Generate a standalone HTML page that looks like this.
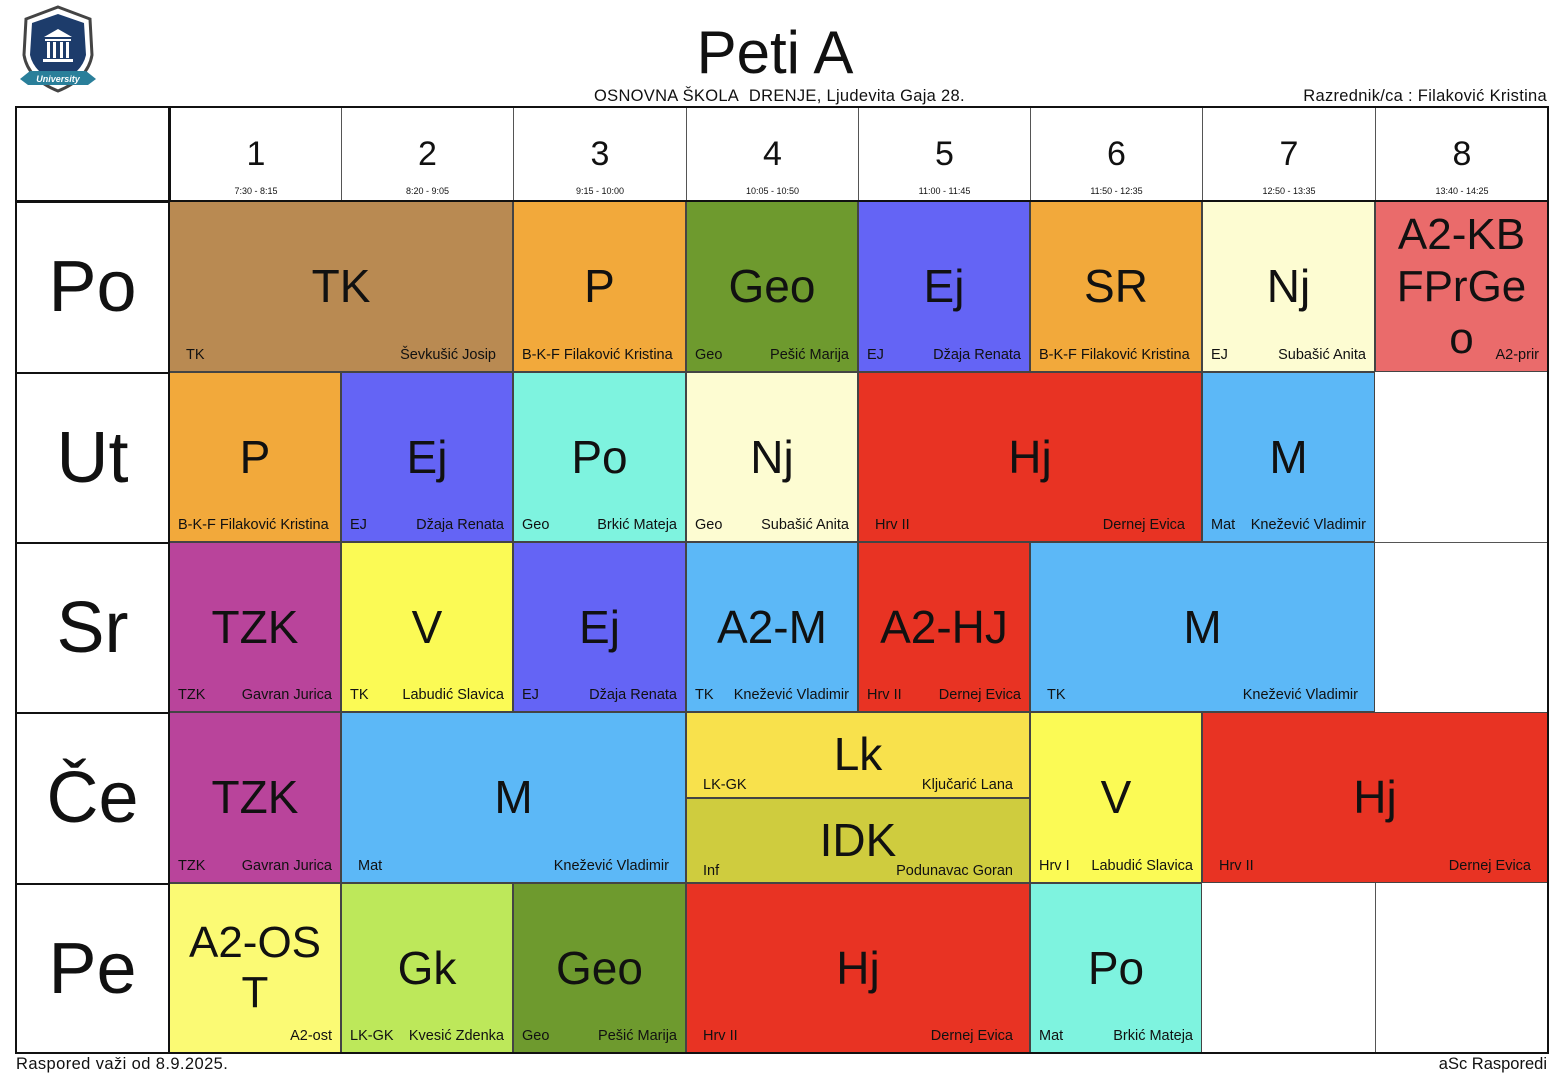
<!DOCTYPE html>
<html><head><meta charset="utf-8"><style>
body{margin:0;width:1558px;height:1080px;background:#fff;position:relative;overflow:hidden;font-family:"Liberation Sans",Arial,sans-serif;color:#111}
.a{position:absolute}
.c{position:absolute;box-sizing:border-box;border:1px solid #444}
.b{position:absolute;left:0;right:0;top:0;bottom:0;display:flex;align-items:center;justify-content:center;font-size:46px;text-align:center;line-height:51px}
.l{position:absolute;left:8px;bottom:8px;font-size:14.5px;white-space:nowrap}
.r{position:absolute;right:8px;bottom:8px;font-size:14.5px;white-space:nowrap}
.h{position:absolute;top:107px;height:94px;box-sizing:border-box;border-left:1px solid #555;text-align:center}
.h .n{position:absolute;top:28px;left:0;right:0;font-size:34px}
.h .t{position:absolute;top:186px;left:0;right:0;font-size:9px}
.d{position:absolute;left:16px;width:153px;height:170px;display:flex;align-items:center;justify-content:center;font-size:72px;box-sizing:border-box;border-top:2px solid #111}
.hl{position:absolute;height:1px;background:#555}
</style></head><body>
<!-- logo -->
<svg class="a" style="left:16px;top:5px" width="84" height="92" viewBox="0 0 84 92">
<path d="M42 2 L74 14 L76 50 Q72 74 42 86 Q12 74 8 50 L10 14 Z" fill="#fff" stroke="#444" stroke-width="3"/>
<path d="M42 9 L68 18 L70 50 Q66 68 42 78 Q18 68 14 50 L16 18 Z" fill="#1d3c6b"/>
<path d="M28 32 L42 24 L56 32 Z" fill="#fff"/><rect x="29" y="34" width="26" height="2" fill="#fff"/>
<rect x="31" y="37" width="3" height="16" fill="#fff"/><rect x="37" y="37" width="3" height="16" fill="#fff"/><rect x="44" y="37" width="3" height="16" fill="#fff"/><rect x="50" y="37" width="3" height="16" fill="#fff"/>
<rect x="27" y="54" width="30" height="3" fill="#fff"/>
<path d="M4 74 L14 66 L70 66 L80 74 L72 80 L12 80 Z" fill="#2a7f9a"/>
<text x="42" y="77" font-size="9" fill="#fff" text-anchor="middle" font-style="italic" font-weight="bold" font-family="Liberation Sans">University</text>
</svg>
<div class="a" style="left:0;width:1550px;top:18px;text-align:center;font-size:60px">Peti A</div>
<div class="a" style="left:594px;top:87px;font-size:16.5px;letter-spacing:0.3px">OSNOVNA ŠKOLA&nbsp; DRENJE, Ljudevita Gaja 28.</div>
<div class="a" style="right:11px;top:87px;font-size:16.5px;letter-spacing:0.3px">Razrednik/ca : Filaković Kristina</div>
<div class="a" style="left:16px;top:1055px;font-size:16.5px;letter-spacing:0.4px">Raspored važi od 8.9.2025.</div>
<div class="a" style="right:11px;top:1055px;font-size:16.5px">aSc Rasporedi</div>

<!-- header -->
<div class="h" style="left:169px;width:172px;border-left:2px solid #111"><div class="n">1</div><div class="t" style="top:79px">7:30 - 8:15</div></div>
<div class="h" style="left:341px;width:172px"><div class="n">2</div><div class="t" style="top:79px">8:20 - 9:05</div></div>
<div class="h" style="left:513px;width:173px"><div class="n">3</div><div class="t" style="top:79px">9:15 - 10:00</div></div>
<div class="h" style="left:686px;width:172px"><div class="n">4</div><div class="t" style="top:79px">10:05 - 10:50</div></div>
<div class="h" style="left:858px;width:172px"><div class="n">5</div><div class="t" style="top:79px">11:00 - 11:45</div></div>
<div class="h" style="left:1030px;width:172px"><div class="n">6</div><div class="t" style="top:79px">11:50 - 12:35</div></div>
<div class="h" style="left:1202px;width:173px"><div class="n">7</div><div class="t" style="top:79px">12:50 - 13:35</div></div>
<div class="h" style="left:1375px;width:173px"><div class="n">8</div><div class="t" style="top:79px">13:40 - 14:25</div></div>

<div class="d" style="top:201px">Po</div>
<div class="d" style="top:372px">Ut</div>
<div class="d" style="top:542px">Sr</div>
<div class="d" style="top:712px">Če</div>
<div class="d" style="top:883px">Pe</div>

<!-- empty cells lines -->
<div class="hl" style="left:1375px;width:173px;top:542px"></div>
<div class="hl" style="left:1375px;width:173px;top:712px"></div>
<div class="a" style="left:1375px;top:883px;width:1px;height:170px;background:#555"></div>

<!-- Po -->
<div class="c" style="left:169px;top:201px;width:344px;height:171px;background:#b98a52"><div class="b">TK</div><div class="l" style="left:16px">TK</div><div class="r" style="right:16px">Ševkušić Josip</div></div>
<div class="c" style="left:513px;top:201px;width:173px;height:171px;background:#f2a93b"><div class="b">P</div><div class="l">B-K-F Filaković Kristina</div></div>
<div class="c" style="left:686px;top:201px;width:172px;height:171px;background:#6e9a2e"><div class="b">Geo</div><div class="l">Geo</div><div class="r">Pešić Marija</div></div>
<div class="c" style="left:858px;top:201px;width:172px;height:171px;background:#6464f5"><div class="b">Ej</div><div class="l">EJ</div><div class="r">Džaja Renata</div></div>
<div class="c" style="left:1030px;top:201px;width:172px;height:171px;background:#f2a93b"><div class="b">SR</div><div class="l">B-K-F Filaković Kristina</div></div>
<div class="c" style="left:1202px;top:201px;width:173px;height:171px;background:#fdfcd2"><div class="b">Nj</div><div class="l">EJ</div><div class="r">Subašić Anita</div></div>
<div class="c" style="left:1375px;top:201px;width:173px;height:171px;background:#ea6b6b"><div class="b" style="font-size:44px;line-height:52px">A2-KB<br>FPrGe<br>o</div><div class="r">A2-prir</div></div>

<!-- Ut -->
<div class="c" style="left:169px;top:372px;width:172px;height:170px;background:#f2a93b"><div class="b">P</div><div class="l">B-K-F Filaković Kristina</div></div>
<div class="c" style="left:341px;top:372px;width:172px;height:170px;background:#6464f5"><div class="b">Ej</div><div class="l">EJ</div><div class="r">Džaja Renata</div></div>
<div class="c" style="left:513px;top:372px;width:173px;height:170px;background:#7ef3df"><div class="b">Po</div><div class="l">Geo</div><div class="r">Brkić Mateja</div></div>
<div class="c" style="left:686px;top:372px;width:172px;height:170px;background:#fdfcd2"><div class="b">Nj</div><div class="l">Geo</div><div class="r">Subašić Anita</div></div>
<div class="c" style="left:858px;top:372px;width:344px;height:170px;background:#e83323"><div class="b">Hj</div><div class="l" style="left:16px">Hrv II</div><div class="r" style="right:16px">Dernej Evica</div></div>
<div class="c" style="left:1202px;top:372px;width:173px;height:170px;background:#5cb8f7"><div class="b">M</div><div class="l">Mat</div><div class="r">Knežević Vladimir</div></div>

<!-- Sr -->
<div class="c" style="left:169px;top:542px;width:172px;height:170px;background:#b9449b"><div class="b">TZK</div><div class="l">TZK</div><div class="r">Gavran Jurica</div></div>
<div class="c" style="left:341px;top:542px;width:172px;height:170px;background:#fbfa55"><div class="b">V</div><div class="l">TK</div><div class="r">Labudić Slavica</div></div>
<div class="c" style="left:513px;top:542px;width:173px;height:170px;background:#6464f5"><div class="b">Ej</div><div class="l">EJ</div><div class="r">Džaja Renata</div></div>
<div class="c" style="left:686px;top:542px;width:172px;height:170px;background:#5cb8f7"><div class="b">A2-M</div><div class="l">TK</div><div class="r">Knežević Vladimir</div></div>
<div class="c" style="left:858px;top:542px;width:172px;height:170px;background:#e83323"><div class="b">A2-HJ</div><div class="l">Hrv II</div><div class="r">Dernej Evica</div></div>
<div class="c" style="left:1030px;top:542px;width:345px;height:170px;background:#5cb8f7"><div class="b">M</div><div class="l" style="left:16px">TK</div><div class="r" style="right:16px">Knežević Vladimir</div></div>

<!-- Če -->
<div class="c" style="left:169px;top:712px;width:172px;height:171px;background:#b9449b"><div class="b">TZK</div><div class="l">TZK</div><div class="r">Gavran Jurica</div></div>
<div class="c" style="left:341px;top:712px;width:345px;height:171px;background:#5cb8f7"><div class="b">M</div><div class="l" style="left:16px">Mat</div><div class="r" style="right:16px">Knežević Vladimir</div></div>
<div class="c" style="left:686px;top:712px;width:344px;height:86px;background:#f8e14c"><div class="b" style="bottom:2px">Lk</div><div class="l" style="left:16px;bottom:4px">LK-GK</div><div class="r" style="right:16px;bottom:4px">Ključarić Lana</div></div>
<div class="c" style="left:686px;top:798px;width:344px;height:85px;background:#cfcc3e"><div class="b">IDK</div><div class="l" style="left:16px;bottom:3px">Inf</div><div class="r" style="right:16px;bottom:3px">Podunavac Goran</div></div>
<div class="c" style="left:1030px;top:712px;width:172px;height:171px;background:#fbfa55"><div class="b">V</div><div class="l">Hrv I</div><div class="r">Labudić Slavica</div></div>
<div class="c" style="left:1202px;top:712px;width:346px;height:171px;background:#e83323"><div class="b">Hj</div><div class="l" style="left:16px">Hrv II</div><div class="r" style="right:16px">Dernej Evica</div></div>

<!-- Pe -->
<div class="c" style="left:169px;top:883px;width:172px;height:170px;background:#fbfa74"><div class="b" style="font-size:44px;line-height:50px">A2-OS<br>T</div><div class="r">A2-ost</div></div>
<div class="c" style="left:341px;top:883px;width:172px;height:170px;background:#bde85a"><div class="b">Gk</div><div class="l">LK-GK</div><div class="r">Kvesić Zdenka</div></div>
<div class="c" style="left:513px;top:883px;width:173px;height:170px;background:#6e9a2e"><div class="b">Geo</div><div class="l">Geo</div><div class="r">Pešić Marija</div></div>
<div class="c" style="left:686px;top:883px;width:344px;height:170px;background:#e83323"><div class="b">Hj</div><div class="l" style="left:16px">Hrv II</div><div class="r" style="right:16px">Dernej Evica</div></div>
<div class="c" style="left:1030px;top:883px;width:172px;height:170px;background:#7ef3df"><div class="b">Po</div><div class="l">Mat</div><div class="r">Brkić Mateja</div></div>

<!-- outer frame and separators -->
<div class="a" style="left:15px;top:106px;width:1530px;height:944px;border:2px solid #111"></div>
<div class="a" style="left:16px;top:200px;width:1532px;height:2px;background:#111"></div>
<div class="a" style="left:168px;top:107px;width:2px;height:946px;background:#111"></div>
</body></html>
